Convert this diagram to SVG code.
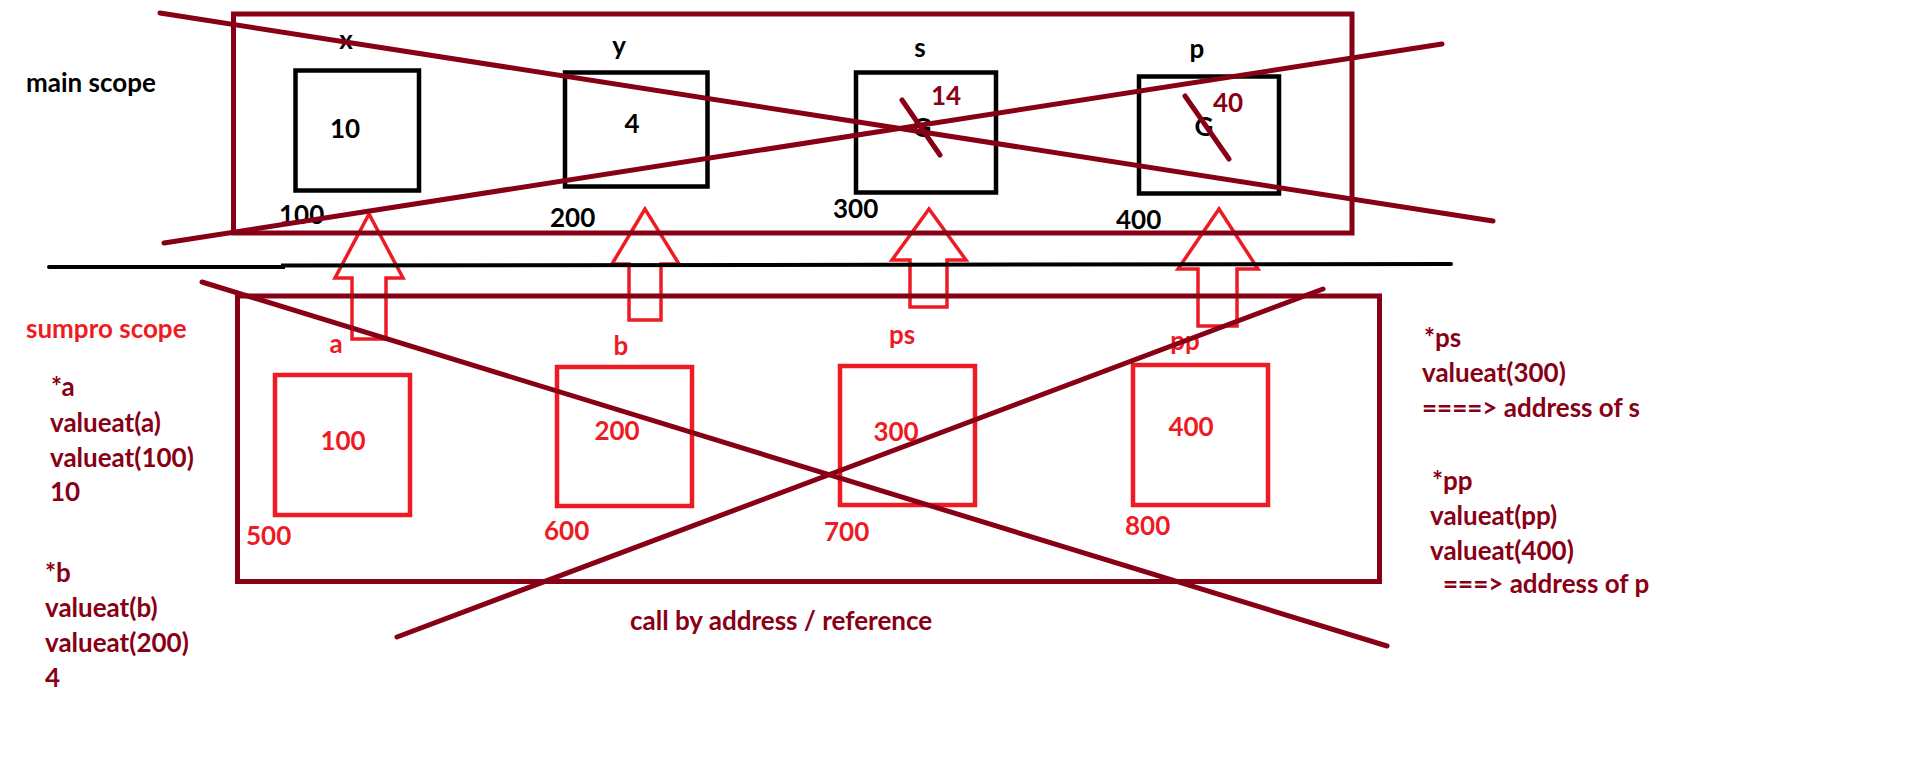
<svg xmlns="http://www.w3.org/2000/svg" width="1910" height="772" viewBox="0 0 1910 772">
  <style>
    text { font-family: Lato, "Liberation Sans", sans-serif; font-weight: bold; font-size: 26px; }
    .blk { fill: #000000; }
    .drd { fill: #880015; }
    .red { fill: #ED1C24; }
    .mid { text-anchor: middle; }
    .frame { fill: none; stroke: #880015; stroke-width: 5; }
    .cell { fill: none; stroke: #000000; stroke-width: 4.5; }
    .rcell { fill: none; stroke: #ED1C24; stroke-width: 4.5; }
    .arrow { fill: none; stroke: #ED1C24; stroke-width: 3.5; stroke-linejoin: miter; }
    .strike { fill: none; stroke: #880015; stroke-width: 5; stroke-linecap: round; }
  </style>

  <rect width="1910" height="772" fill="#ffffff"/>

  <!-- pointer arrows from the function cells up to the variables they hold -->
  <g id="connectors">
    <polygon class="arrow" points="369,214 335,278 352,278 352,339 386,339 386,278 403,278"/>
    <polygon class="arrow" points="645,209 612,264 629,264 629,320 661,320 661,264 679,264"/>
    <polygon class="arrow" points="929,209 892,260 910,260 910,307 947,307 947,260 966,260"/>
    <polygon class="arrow" points="1219,209 1178,269 1198,269 1198,326 1237,326 1237,269 1258,269"/>
  </g>

  <!-- divider between the two scopes -->
  <polyline id="divider" points="49,267 283,267 283,265.5 1451,264" fill="none" stroke="#000000" stroke-width="4" stroke-linecap="round"/>

  <!-- main scope -->
  <g id="main-scope">
    <rect class="frame" x="233.5" y="14" width="1118.5" height="219"/>
    <text class="blk" x="26" y="92">main scope</text>
  </g>

  <g id="var-x">
    <rect class="cell" x="295.5" y="70.5" width="123.5" height="120"/>
    <text class="blk mid" x="346" y="49">x</text>
    <text class="blk mid" x="345" y="138">10</text>
    <text class="blk" x="279" y="224">100</text>
  </g>

  <g id="var-y">
    <rect class="cell" x="565" y="72.5" width="142.5" height="114"/>
    <text class="blk mid" x="619" y="55">y</text>
    <text class="blk mid" x="632" y="133">4</text>
    <text class="blk" x="550" y="227">200</text>
  </g>

  <!-- s and p start as garbage (G), later overwritten -->
  <g id="var-s">
    <rect class="cell" x="856" y="72.5" width="140" height="120"/>
    <text class="blk mid" x="920" y="57">s</text>
    <text class="blk mid" x="922" y="137">G</text>
    <line class="strike" x1="902" y1="100" x2="940" y2="155"/>
    <text class="drd mid" x="946" y="105">14</text>
    <text class="blk" x="833" y="218">300</text>
  </g>

  <g id="var-p">
    <rect class="cell" x="1139" y="76.5" width="140" height="117"/>
    <text class="blk mid" x="1197" y="58">p</text>
    <text class="blk mid" x="1204" y="136">G</text>
    <line class="strike" x1="1185" y1="96" x2="1229" y2="159"/>
    <text class="drd mid" x="1228" y="112">40</text>
    <text class="blk" x="1116" y="229">400</text>
  </g>

  <!-- sumpro scope -->
  <g id="sumpro-scope">
    <rect class="frame" x="237.5" y="296" width="1142" height="285.5"/>
    <text class="red" x="26" y="338">sumpro scope</text>
  </g>

  <g id="param-a">
    <rect class="rcell" x="275" y="375" width="135" height="140"/>
    <text class="red mid" x="336" y="353">a</text>
    <text class="red mid" x="343" y="450">100</text>
    <text class="red" x="246" y="545">500</text>
  </g>

  <g id="param-b">
    <rect class="rcell" x="557" y="367" width="135" height="139"/>
    <text class="red mid" x="621" y="355">b</text>
    <text class="red mid" x="617" y="440">200</text>
    <text class="red" x="544" y="540">600</text>
  </g>

  <g id="param-ps">
    <rect class="rcell" x="840" y="366" width="135" height="139"/>
    <text class="red mid" x="902" y="344">ps</text>
    <text class="red mid" x="896" y="441">300</text>
    <text class="red" x="824" y="541">700</text>
  </g>

  <g id="param-pp">
    <rect class="rcell" x="1133" y="365" width="135" height="140"/>
    <text class="red mid" x="1185" y="350">pp</text>
    <text class="red mid" x="1191" y="436">400</text>
    <text class="red" x="1125" y="535">800</text>
  </g>

  <!-- dereference notes -->
  <g id="notes-a">
    <text class="drd" x="51" y="396">*a</text>
    <text class="drd" x="50" y="432">valueat(a)</text>
    <text class="drd" x="50" y="467">valueat(100)</text>
    <text class="drd" x="50" y="501">10</text>
  </g>

  <g id="notes-b">
    <text class="drd" x="45" y="582">*b</text>
    <text class="drd" x="45" y="617">valueat(b)</text>
    <text class="drd" x="45" y="652">valueat(200)</text>
    <text class="drd" x="45" y="687">4</text>
  </g>

  <g id="notes-ps">
    <text class="drd" x="1424" y="347">*ps</text>
    <text class="drd" x="1422" y="382">valueat(300)</text>
    <text class="drd" x="1422" y="417">====&gt; address of s</text>
  </g>

  <g id="notes-pp">
    <text class="drd" x="1432" y="490">*pp</text>
    <text class="drd" x="1430" y="525">valueat(pp)</text>
    <text class="drd" x="1430" y="560">valueat(400)</text>
    <text class="drd" x="1443" y="593">===&gt; address of p</text>
  </g>

  <g id="caption">
    <text class="drd" x="630" y="630">call by address / reference</text>
  </g>

  <!-- both scopes crossed out -->
  <g id="cross-outs">
    <line class="strike" x1="160" y1="13" x2="1493" y2="221"/>
    <line class="strike" x1="164" y1="243" x2="1442" y2="44"/>
    <line class="strike" x1="202" y1="282" x2="1387" y2="646"/>
    <line class="strike" x1="397" y1="637" x2="1323" y2="289"/>
  </g>
</svg>
